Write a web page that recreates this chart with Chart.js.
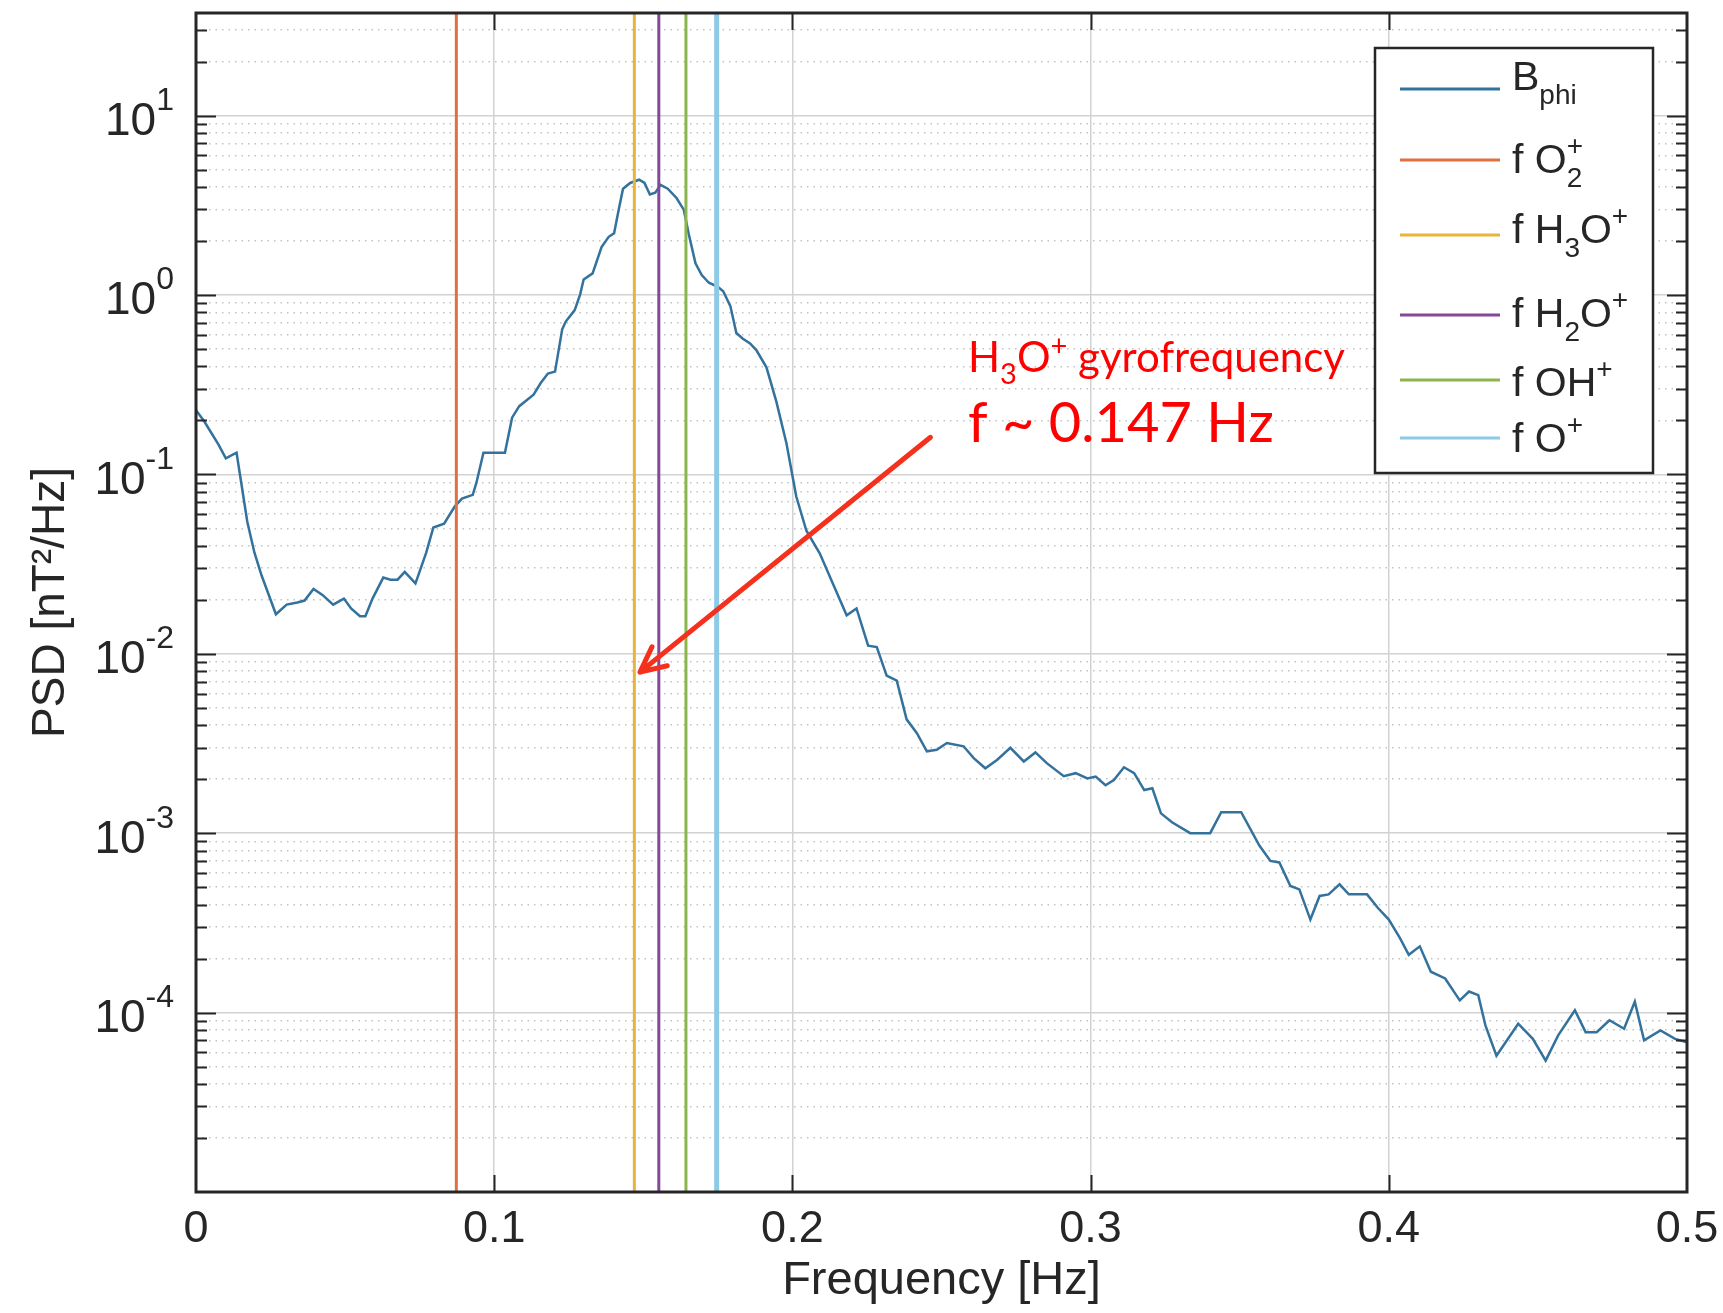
<!DOCTYPE html>
<html>
<head>
<meta charset="utf-8">
<script src="https://cdn.jsdelivr.net/npm/chart.js@4/dist/chart.umd.min.js"></script>
<style>
  html, body { margin: 0; padding: 0; background: #fff; }
</style>
</head>
<body>
<canvas id="grafico" width="1723" height="1313"></canvas>
<script>
// frecuencias [Hz] y PSD de B_phi
const frecuencias = [0, 0.0028, 0.0076, 0.0100, 0.0136, 0.0172, 0.0196, 0.0220, 0.0268, 0.0304,
  0.0340, 0.0364, 0.0394, 0.0424, 0.0460, 0.0496, 0.0520, 0.0550, 0.0568, 0.0592,
  0.0628, 0.0652, 0.0676, 0.0700, 0.0736, 0.0772, 0.0796, 0.0832, 0.0868, 0.0892,
  0.0928, 0.0940, 0.0964, 0.1000, 0.1036, 0.1060, 0.1084, 0.1132, 0.1156, 0.1180,
  0.1204, 0.1228, 0.1240, 0.1270, 0.1288, 0.1300, 0.1330, 0.1360, 0.1384, 0.1402,
  0.1420, 0.1432, 0.1456, 0.1486, 0.1504, 0.1522, 0.1540, 0.1558, 0.1582, 0.1612,
  0.1636, 0.1652, 0.1675, 0.1696, 0.1720, 0.1750, 0.1768, 0.1792, 0.1812, 0.1834,
  0.1858, 0.1879, 0.1913, 0.1946, 0.1980, 0.2013, 0.2047, 0.2092, 0.2137, 0.2182,
  0.2215, 0.2254, 0.2283, 0.2316, 0.2350, 0.2383, 0.2417, 0.2451, 0.2484, 0.2518,
  0.2574, 0.2608, 0.2647, 0.2686, 0.2731, 0.2776, 0.2815, 0.2854, 0.2910, 0.2950,
  0.2989, 0.3017, 0.3050, 0.3078, 0.3112, 0.3146, 0.3180, 0.3207, 0.3236, 0.3273,
  0.3334, 0.3401, 0.3438, 0.3505, 0.3566, 0.3603, 0.3633, 0.3670, 0.3700, 0.3737,
  0.3768, 0.3798, 0.3835, 0.3866, 0.3927, 0.3963, 0.4000, 0.4037, 0.4067, 0.4104,
  0.4141, 0.4189, 0.4238, 0.4269, 0.4300, 0.4324, 0.4361, 0.4434, 0.4483, 0.4526,
  0.4568, 0.4624, 0.4660, 0.4697, 0.4740, 0.4789, 0.4825, 0.4856, 0.4911, 0.4960, 0.5000];
const psdBphi = [0.228, 0.197, 0.146, 0.123, 0.132, 0.0545, 0.0366, 0.0273, 0.0166, 0.0188,
  0.0193, 0.0198, 0.0230, 0.0213, 0.0188, 0.0203, 0.0179, 0.0162, 0.0162, 0.0203,
  0.0266, 0.0259, 0.0259, 0.0286, 0.0247, 0.0366, 0.0506, 0.0531, 0.0664, 0.0733,
  0.0769, 0.0893, 0.132, 0.132, 0.132, 0.207, 0.240, 0.278, 0.323, 0.365,
  0.374, 0.644, 0.711, 0.824, 1.005, 1.22, 1.32, 1.85, 2.11, 2.21,
  3.13, 3.91, 4.21, 4.39, 4.21, 3.63, 3.72, 4.11, 3.91, 3.46,
  2.98, 2.2, 1.5, 1.29, 1.17, 1.11, 1.05, 0.867, 0.614, 0.570,
  0.537, 0.493, 0.395, 0.255, 0.149, 0.0753, 0.0485, 0.0362, 0.0243, 0.0164,
  0.0179, 0.0111, 0.0109, 0.00755, 0.00708, 0.00431, 0.00362, 0.00286, 0.00292, 0.00318,
  0.00305, 0.00262, 0.00230, 0.00256, 0.00299, 0.00251, 0.00282, 0.00245, 0.00208, 0.00216,
  0.00202, 0.00207, 0.00185, 0.00198, 0.00233, 0.00216, 0.00174, 0.00178, 0.00129, 0.00115,
  0.00100, 0.00100, 0.00131, 0.00131, 0.000853, 0.000701, 0.000687, 0.000508, 0.000486, 0.000330,
  0.000447, 0.000456, 0.000519, 0.000456, 0.000456, 0.000384, 0.000330, 0.000261, 0.000210, 0.000234,
  0.000169, 0.000155, 0.000117, 0.000131, 0.000125, 0.0000849, 0.0000575, 0.0000867, 0.0000714, 0.0000540,
  0.0000746, 0.000103, 0.0000778, 0.0000778, 0.0000906, 0.0000813, 0.000115, 0.0000700, 0.0000796, 0.0000714, 0.0000684];

// girofrecuencias de los iones [Hz]
const ionFreqs = [0.0873, 0.147, 0.1552, 0.1643, 0.1746];
const ionColors = ['#e0703e', '#e8b43a', '#84479a', '#8db54e', '#8ccae6'];
// etiquetas de la leyenda (estilo TeX: _ subindice, ^ superindice)
const leyendaTextos = ['B_{phi}', 'f O_2^+', 'f H_3O^+', 'f H_2O^+', 'f OH^+', 'f O^+'];

const xTicks = [0, 0.1, 0.2, 0.3, 0.4, 0.5];
const yDecadas = [-4, -3, -2, -1, 0, 1];
const yMin = 1e-5;
const yMax = 37.3;

// anotacion en rojo
const notaLinea1 = 'H_3O^+ gyrofrequency';
const notaLinea2 = 'f ~ 0.147 Hz';
const flechaDesde = [0.2463, 0.161];
const flechaHasta = [0.1489, 0.0079];

const colorEjes = '#262626';
const fuente = '"Liberation Sans", Arial, Helvetica, sans-serif';

function esMayor(v) {
  const l = Math.log10(v);
  return Math.abs(l - Math.round(l)) < 1e-9;
}

// separa un texto tipo TeX en partes normales / sub / sup
function partesTex(s) {
  const partes = [];
  let i = 0;
  while (i < s.length) {
    const c = s[i];
    if (c === '_' || c === '^') {
      i++;
      let t;
      if (s[i] === '{') { const j = s.indexOf('}', i); t = s.slice(i + 1, j); i = j + 1; }
      else { t = s[i]; i++; }
      partes.push({ t, modo: c === '_' ? 'sub' : 'sup' });
    } else {
      let j = i;
      while (j < s.length && s[j] !== '_' && s[j] !== '^') j++;
      partes.push({ t: s.slice(i, j), modo: 'normal' });
      i = j;
    }
  }
  return partes;
}

// dibuja (o solo mide) un texto con sub/superindices, devuelve el ancho
function textoTex(ctx, s, x, y, f, dibujar = true) {
  let cx = x;
  let prev = null;
  partesTex(s).forEach(p => {
    if (p.modo === 'normal') {
      ctx.font = `${f.size}px ${f.family}`;
      if (dibujar) ctx.fillText(p.t, cx, y);
      cx += ctx.measureText(p.t).width;
      prev = null;
    } else {
      ctx.font = `${f.small}px ${f.family}`;
      const w = ctx.measureText(p.t).width;
      const apilado = prev && prev.modo !== p.modo;
      const sx = apilado ? prev.x : cx;
      if (dibujar) ctx.fillText(p.t, sx, y + (p.modo === 'sub' ? f.subDy : f.supDy));
      cx = apilado ? Math.max(cx, sx + w) : sx + w;
      prev = { modo: p.modo, x: sx };
    }
  });
  return cx - x;
}

// marco, ticks hacia adentro y etiquetas del eje y
const marcoPlugin = {
  id: 'marco',
  afterDatasetsDraw(chart) {
    const { ctx, chartArea: a, scales: { x, y } } = chart;
    ctx.save();
    ctx.strokeStyle = colorEjes;
    ctx.lineWidth = 2;
    ctx.beginPath();
    y.ticks.forEach(t => {
      const py = Math.round(y.getPixelForValue(t.value)) + 0.5;
      if (py <= a.top + 1 || py >= a.bottom - 1) return;
      const l = esMayor(t.value) ? 20 : 11;
      ctx.moveTo(a.left, py); ctx.lineTo(a.left + l, py);
      ctx.moveTo(a.right, py); ctx.lineTo(a.right - l, py);
    });
    xTicks.forEach(v => {
      const px = Math.round(x.getPixelForValue(v)) + 0.5;
      if (px <= a.left + 1 || px >= a.right - 1) return;
      ctx.moveTo(px, a.bottom); ctx.lineTo(px, a.bottom - 17);
      ctx.moveTo(px, a.top); ctx.lineTo(px, a.top + 17);
    });
    ctx.stroke();
    ctx.lineWidth = 3;
    ctx.strokeRect(a.left, a.top, a.right - a.left, a.bottom - a.top);

    // etiquetas 10^n
    ctx.fillStyle = colorEjes;
    ctx.textBaseline = 'alphabetic';
    ctx.textAlign = 'left';
    const fy = { family: fuente, size: 46, small: 32, subDy: 10, supDy: -25 };
    yDecadas.forEach(e => {
      const py = y.getPixelForValue(Math.pow(10, e));
      const s = '10^{' + e + '}';
      const w = textoTex(ctx, s, 0, 0, fy, false);
      textoTex(ctx, s, a.left - 22 - w, py + 19.5, fy);
    });
    ctx.restore();
  }
};

// leyenda tipo MATLAB
const leyendaPlugin = {
  id: 'leyendaMatlab',
  afterDraw(chart) {
    const { ctx, chartArea: a } = chart;
    const bx = a.right - 312, by = a.top + 35, bw = 278, bh = 425;
    const filas = [41, 112, 187, 267, 332, 390];
    const bases = [1, 13, 8, 12, 16, 14];
    ctx.save();
    ctx.fillStyle = '#fff';
    ctx.fillRect(bx, by, bw, bh);
    ctx.strokeStyle = colorEjes;
    ctx.lineWidth = 2.5;
    ctx.strokeRect(bx, by, bw, bh);
    const f = { family: fuente, size: 41, small: 28, subDy: 14, supDy: -18 };
    chart.data.datasets.forEach((ds, i) => {
      const yy = by + filas[i];
      ctx.strokeStyle = ds.borderColor;
      ctx.lineWidth = 3;
      ctx.beginPath();
      ctx.moveTo(bx + 25, yy); ctx.lineTo(bx + 125, yy);
      ctx.stroke();
      ctx.fillStyle = colorEjes;
      textoTex(ctx, ds.label, bx + 137, yy + bases[i], f);
    });
    ctx.restore();
  }
};

// flecha y texto rojo
const notaPlugin = {
  id: 'nota',
  afterDraw(chart) {
    const { ctx, scales: { x, y } } = chart;
    const x0 = x.getPixelForValue(flechaDesde[0]), y0 = y.getPixelForValue(flechaDesde[1]);
    const x1 = x.getPixelForValue(flechaHasta[0]), y1 = y.getPixelForValue(flechaHasta[1]);
    ctx.save();
    ctx.strokeStyle = '#f5301c';
    ctx.lineWidth = 5;
    ctx.lineCap = 'round';
    ctx.beginPath();
    ctx.moveTo(x0, y0); ctx.lineTo(x1, y1);
    const ang = Math.atan2(y0 - y1, x0 - x1);
    [0.45, -0.45].forEach(d => {
      ctx.moveTo(x1, y1);
      ctx.lineTo(x1 + 28 * Math.cos(ang + d), y1 + 28 * Math.sin(ang + d));
    });
    ctx.stroke();

    ctx.fillStyle = '#ff0000';
    ctx.textBaseline = 'alphabetic';
    ctx.textAlign = 'left';
    const tx = x.getPixelForValue(0.2589);
    textoTex(ctx, notaLinea1, tx, y.getPixelForValue(0.3726),
      { family: 'Lato, "Open Sans", sans-serif', size: 42, small: 29, subDy: 12, supDy: -16 });
    ctx.font = '56px Lato, "Open Sans", sans-serif';
    ctx.fillText(notaLinea2, tx, y.getPixelForValue(0.1518));
    ctx.restore();
  }
};

const datasets = [{
  label: leyendaTextos[0],
  data: frecuencias.map((f, i) => ({ x: f, y: psdBphi[i] })),
  borderColor: '#33729d',
  borderWidth: 2.5,
  pointRadius: 0,
  order: 1
}];
ionFreqs.forEach((f, i) => {
  datasets.push({
    label: leyendaTextos[i + 1],
    data: [{ x: f, y: yMin }, { x: f, y: yMax }],
    borderColor: ionColors[i],
    borderWidth: i === 4 ? 5 : 3,
    pointRadius: 0,
    order: 0
  });
});

Chart.defaults.font.family = fuente;
Chart.defaults.color = colorEjes;

new Chart(document.getElementById('grafico'), {
  type: 'line',
  data: { datasets },
  options: {
    responsive: false,
    animation: false,
    devicePixelRatio: 1,
    layout: { padding: { top: 13, right: 36, left: 0, bottom: 0 } },
    plugins: { legend: { display: false }, tooltip: { enabled: false } },
    scales: {
      x: {
        type: 'linear',
        min: 0,
        max: 0.5,
        afterBuildTicks: s => { s.ticks = xTicks.map(v => ({ value: v })); },
        afterFit: s => { s.height = 121; s.paddingLeft = 0; s.paddingRight = 0; },
        ticks: {
          font: { size: 45 },
          color: colorEjes,
          padding: 11,
          maxRotation: 0,
          autoSkip: false,
          callback: v => String(v)
        },
        grid: { color: '#d2d2d2', lineWidth: 1.5, drawTicks: false },
        border: { display: false },
        title: {
          display: true,
          text: 'Frequency [Hz]',
          font: { size: 47 },
          color: colorEjes,
          padding: { top: 0, bottom: 4 }
        }
      },
      y: {
        type: 'logarithmic',
        min: yMin,
        max: yMax,
        afterBuildTicks: s => {
          const t = [];
          for (let e = -5; e <= 1; e++) {
            for (let m = 1; m <= 9; m++) {
              const v = m * Math.pow(10, e);
              if (v >= yMin * 0.999 && v <= yMax) t.push({ value: v });
            }
          }
          s.ticks = t;
        },
        afterFit: s => { s.width = 196; s.paddingTop = 0; s.paddingBottom = 0; },
        ticks: { display: false },
        grid: {
          drawTicks: false,
          color: c => (c.tick && esMayor(c.tick.value)) ? '#d2d2d2' : '#c2c2c2',
          lineWidth: c => (c.tick && esMayor(c.tick.value)) ? 1.6 : 1.4
        },
        border: {
          display: false,
          dash: c => (c.tick && !esMayor(c.tick.value)) ? [1.5, 5] : []
        },
        title: {
          display: true,
          text: 'PSD [nT²/Hz]',
          font: { size: 46 },
          color: colorEjes,
          padding: { top: 24, bottom: 0 }
        }
      }
    }
  },
  plugins: [marcoPlugin, leyendaPlugin, notaPlugin]
});
</script>
</body>
</html>
